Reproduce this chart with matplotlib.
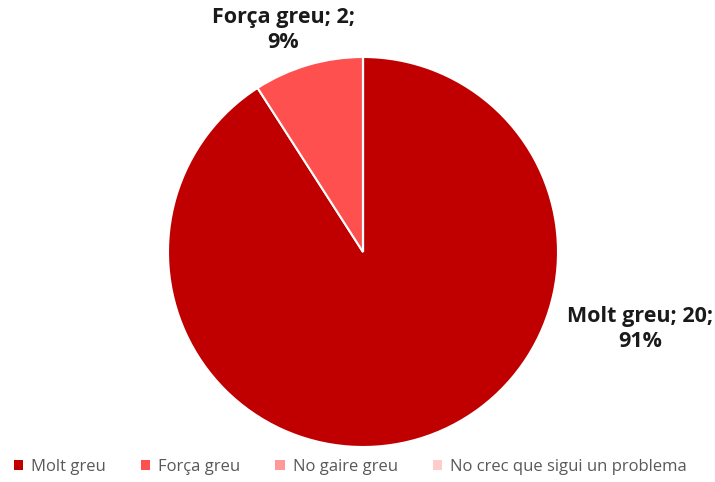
import matplotlib.pyplot as plt
from matplotlib.patches import Patch

categories = ["Molt greu", "Força greu", "No gaire greu", "No crec que sigui un problema"]
values = [20, 2, 0, 0]
colors = ["#C00000", "#FF5050", "#FF9999", "#FFCCCC"]

plt.rcParams['font.family'] = ['Open Sans', 'DejaVu Sans']

W, H = 715, 482
fig = plt.figure(figsize=(W / 100, H / 100), dpi=100)
cx, cy, r = 363, 252, 195
ax = fig.add_axes([(cx - r) / W, (H - cy - r) / H, 2 * r / W, 2 * r / H])

total = sum(values)
wedges, _ = ax.pie(values, colors=colors, startangle=90, counterclock=False,
                   radius=1, wedgeprops=dict(edgecolor="white", linewidth=1.5))
ax.set_xlim(-1, 1)
ax.set_ylim(-1, 1)
ax.set_aspect("equal")
ax.axis("off")

label_pos = {0: (640, 329), 1: (283, 30)}
for i, (pos_x, pos_y) in label_pos.items():
    pct = round(100 * values[i] / total)
    fig.text(pos_x / W, 1 - pos_y / H, f"{categories[i]}; {values[i]};\n{pct}%",
             ha="center", va="center", fontsize=15.5, fontweight="bold",
             color="#1a1a1a", linespacing=1.3)

handles = [Patch(facecolor=c, edgecolor="none") for c in colors]
fig.legend(handles, categories, loc="center", bbox_to_anchor=(0.49, 1 - 467 / H),
           ncol=4, frameon=False, fontsize=12, handlelength=0.55, handleheight=0.55,
           handletextpad=0.5, columnspacing=2.1, labelcolor="#595959")

fig.savefig("out.png", dpi=100)
